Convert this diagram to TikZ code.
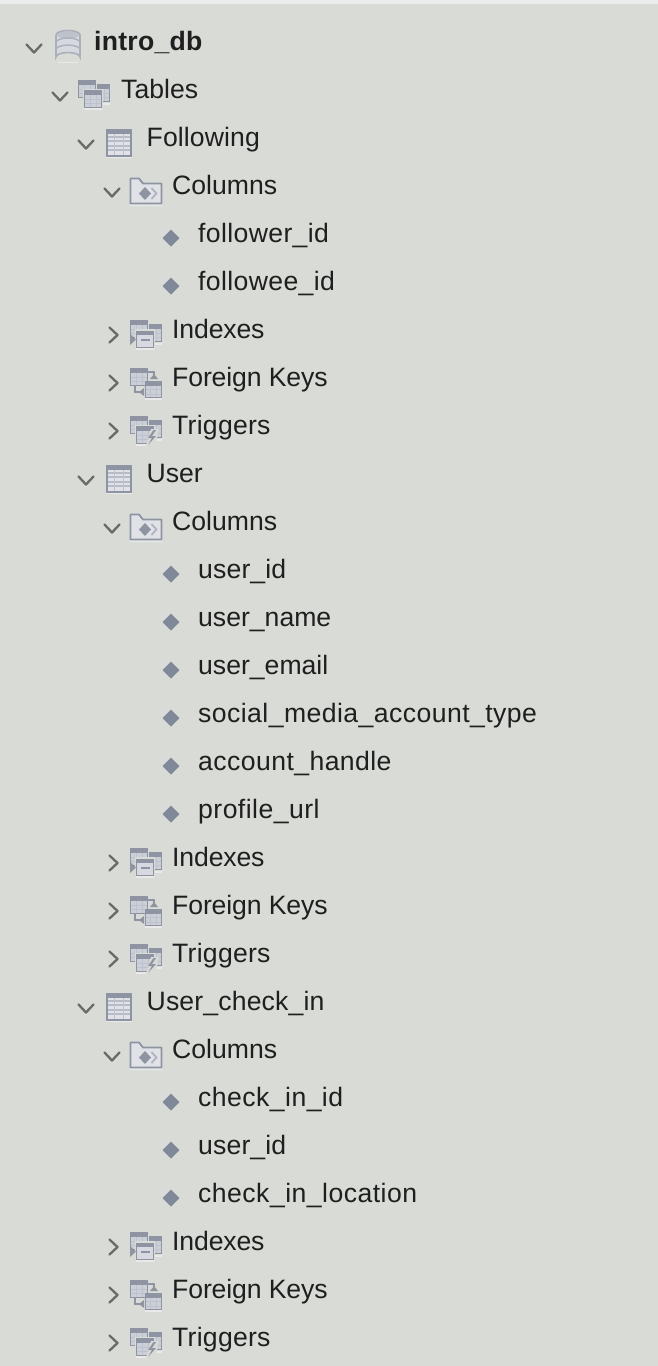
\documentclass[tikz,border=0pt]{standalone}
\usepackage{fontspec}
\setmainfont{Liberation Sans}
\definecolor{bg}{HTML}{D9DBD6}
\definecolor{topbar}{HTML}{ECECEC}
\definecolor{txt}{HTML}{1F1F1F}
\definecolor{chev}{HTML}{6A6B66}
\definecolor{ic}{HTML}{8E94A2}
\definecolor{icl}{HTML}{BEC2CC}
\definecolor{icf}{HTML}{CBCFD7}
\definecolor{icp}{HTML}{D6D9DF}
\definecolor{icw}{HTML}{E0E2E7}
\definecolor{shad}{HTML}{E8E9E8}
\definecolor{dia}{HTML}{808999}
\tikzset{
  x=1pt,y=-1pt,
  rowtext/.style={anchor=base west,inner sep=0pt,text=txt,font=\fontsize{26.6}{30}\selectfont},
  boldtext/.style={rowtext,font=\fontsize{26.6}{30}\selectfont\bfseries},
  chevline/.style={draw=chev,line width=2.3pt,line cap=round,line join=round},
  pics/chevdown/.style={code={\draw[chevline] (-7.5,-4) -- (0,4) -- (7.5,-4);}},
  pics/chevright/.style={code={\draw[chevline] (-4,-7.5) -- (4,0) -- (-4,7.5);}},
  pics/diam/.style={code={\fill[dia] (-8.5,0) -- (0,-8.5) -- (8.5,0) -- (0,8.5) -- cycle;}},
  pics/minitable/.style={code={
    \fill[icf] (0,0) rectangle (#1,#1);
    \foreach \f in {0.5,0.75}{\draw[icl,line width=.5pt] (0,{#1*\f}) -- (#1,{#1*\f});}
    \foreach \f in {0.33,0.66}{\draw[icl,line width=.5pt] ({#1*\f},4) -- ({#1*\f},#1);}
    \fill[ic] (0,0) rectangle (#1,4.5);
    \draw[ic,line width=1.8pt] (0.5,0.5) rectangle (#1-0.5,#1-0.5);
  }},
  pics/tableicon/.style={code={
    \fill[shad] (-13,14) rectangle (13,15.5);
    \fill[icw] (-13,-14) rectangle (13,14);
    \foreach \yy in {-6,-1.5,3,7.5}{\draw[icl!85!ic,line width=2pt] (-13,\yy) -- (13,\yy);}
    \foreach \xx in {-4.5,4.5}{\draw[icl,line width=.6pt] (\xx,-9) -- (\xx,14);}
    \fill[ic] (-13,-14) rectangle (13,-9);
    \draw[ic,line width=2pt] (-12,-13) rectangle (12,13);
  }},
  pics/stackback/.style={code={
    \fill[shad] (-2,9) rectangle (16,10.5);
    \pic at (-2,-10) {minitable=18};
    \fill[bg] (-16.8,-14.8) rectangle (3,5);
    \pic at (-16,-14) {minitable=18};
    \fill[shad] (-10,14) rectangle (8,15.5);
    \fill[bg] (-11,-5) rectangle (9,14);
  }},
  pics/tablesicon/.style={code={
    \pic at (0,0) {stackback};
    \pic at (-10,-4) {minitable=18};
  }},
  pics/indexicon/.style={code={
    \pic at (0,0) {stackback};
    \fill[icp] (-10,-3) rectangle (8,14);
    \fill[ic] (-10,-3) rectangle (8,1);
    \draw[ic,line width=1.6pt] (-9.5,-2.5) rectangle (7.5,13.5);
    \draw[ic,line width=2pt] (-5,6) -- (4,6);
    \fill[ic] (-16,0) -- (-10,5.5) -- (-16,11) -- cycle;
  }},
  pics/fkicon/.style={code={
    \fill[shad] (-1,16) rectangle (16,17.5);
    \pic at (-16,-14) {minitable=18};
    \draw[ic,line width=1.6pt] (-11,4) -- (-11,10) -- (-3,10);
    \draw[ic,line width=1.6pt] (2,-10) -- (8,-10) -- (8,-3);
    \pic at (-1,-1) {minitable=17};
    \fill[ic] (-7,10) -- (-2,6) -- (-2,14) -- cycle;
    \fill[ic] (4,-3) -- (12,-3) -- (8,-8) -- cycle;
  }},
  pics/trigicon/.style={code={
    \pic at (0,0) {stackback};
    \pic at (-10,-4) {minitable=18};
    \fill[bg] (5,-1) -- (13,-1) -- (9,16) -- (0,16) -- cycle;
    \fill[ic] (7.5,0) -- (2,8) -- (6,8) -- (2,15) -- (10,6) -- (6,6) -- (10,0) -- cycle;
  }},
  pics/foldericon/.style={code={
    \fill[shad] (-16,13) rectangle (16,15);
    \fill[icw] (-16,-13) -- (-7,-13) -- (-3,-8) -- (16,-8) -- (16,13) -- (-16,13) -- cycle;
    \draw[ic,line width=1.8pt,line join=round] (-15.5,-12.5) -- (-7,-12.5) -- (-3,-7.5) -- (15.5,-7.5) -- (15.5,12.5) -- (-15.5,12.5) -- cycle;
    \fill[ic] (-7,2.5) -- (-1,-4) -- (5,2.5) -- (-1,9) -- cycle;
    \draw[ic!70,line width=1.8pt] (5.5,-3) -- (10.5,2.5) -- (5.5,8);
  }},
  pics/dbicon/.style={code={
    \fill[shad] (-10,15.5) rectangle (10,17);
    \fill[icp] (-12,-11) -- (-12,11) arc[x radius=12,y radius=4.5,start angle=180,end angle=360] -- (12,-11) arc[x radius=12,y radius=4.5,start angle=0,end angle=180] -- cycle;
    \fill[icl] (0,-11) ellipse[x radius=11,y radius=3.6];
    \draw[icl!60!ic,line width=1.6pt] (-12,-11) -- (-12,11) arc[x radius=12,y radius=4.5,start angle=180,end angle=360] -- (12,-11) arc[x radius=12,y radius=4.5,start angle=0,end angle=-180];
    \draw[icl!60!ic,line width=1.4pt] (-12,-3.5) arc[x radius=12,y radius=4.5,start angle=180,end angle=360];
    \draw[icl!60!ic,line width=1.4pt] (-12,3.5) arc[x radius=12,y radius=4.5,start angle=180,end angle=360];
  }},
}
\begin{document}
\begin{tikzpicture}
\useasboundingbox (0,0) rectangle (658,1366);
\fill[bg] (0,0) rectangle (658,1366);
\fill[topbar] (0,0) rectangle (658,4);
% root
\pic at (34,48.5) {chevdown};
\pic at (68,46) {dbicon};
\node[boldtext] (root) at (94,50) {\addfontfeature{LetterSpace=0.94}intro\_db};
\pic at (60,96.5) {chevdown};
\pic at (94,94) {tablesicon};
\node[rowtext] (tables) at (121,98) {Tables};
% table blocks
\foreach \tn/\tls/\ty/\cols in {%
  Following/0.4/137/{1.37/follower\_id,1.37/followee\_id},%
  User/0/473/{0.54/user\_id,0/user\_name,0/user\_email,1.65/social\_media\_account\_type,1.6/account\_handle,1.7/profile\_url},%
  User\_check\_in/0.58/1001/{1.7/check\_in\_id,0.54/user\_id,1.77/check\_in\_location}}{%
  \pic at (86,\ty+7.5) {chevdown};
  \pic at (119,\ty+5.5) {tableicon};
  \node[rowtext] (tbl-\ty) at (146.5,\ty+9) {\addfontfeature{LetterSpace=\tls}\tn};
  \pic at (112,\ty+55.5) {chevdown};
  \pic at (146,\ty+54) {foldericon};
  \node[rowtext] (cols-\ty) at (172,\ty+57) {Columns};
  \pgfmathsetmacro{\ry}{\ty+48}%
  \xdef\rowy{\ry}%
  \foreach \lsp/\c in \cols {%
    \pgfmathsetmacro{\ry}{\rowy+48}%
    \xdef\rowy{\ry}%
    \pic at (171,\rowy+5) {diam};
    \node[rowtext] (col-\rowy) at (198,\rowy+9) {\addfontfeature{LetterSpace=\lsp}\c};
  }%
  \pgfmathsetmacro{\ia}{\rowy+48}%
  \pgfmathsetmacro{\ib}{\rowy+96}%
  \pgfmathsetmacro{\ig}{\rowy+144}%
  \pic at (113.5,\ia+6) {chevright};
  \pic at (146,\ia+5) {indexicon};
  \node[rowtext] (idx-\ty) at (172,\ia+9) {\addfontfeature{LetterSpace=-0.54}Indexes};
  \pic at (113.5,\ib+6) {chevright};
  \pic at (146,\ib+5) {fkicon};
  \node[rowtext] (fk-\ty) at (172,\ib+9) {\addfontfeature{LetterSpace=-0.5}Foreign Keys};
  \pic at (113.5,\ig+6) {chevright};
  \pic at (146,\ig+5) {trigicon};
  \node[rowtext] (trg-\ty) at (172,\ig+9) {\addfontfeature{LetterSpace=0.94}Triggers};
}
\end{tikzpicture}
\end{document}
